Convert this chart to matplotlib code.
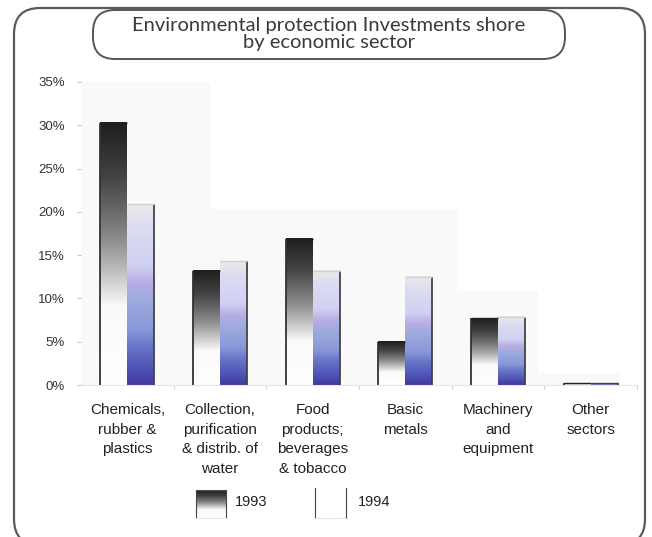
import numpy as np
import matplotlib
matplotlib.use('Agg')
import matplotlib.pyplot as plt
from matplotlib.colors import LinearSegmentedColormap
from matplotlib.patches import FancyBboxPatch, Rectangle
from matplotlib.transforms import IdentityTransform

# data (percent of investments)
sectors = ['Chemicals,\nrubber &\nplastics',
           'Collection,\npurification\n& distrib. of\nwater',
           'Food\nproducts;\nbeverages\n& tobacco',
           'Basic\nmetals',
           'Machinery\nand\nequipment',
           'Other\nsectors']
share_1993 = [30.3, 13.2, 16.9, 5.0, 7.7, 0.2]
share_1994 = [20.9, 14.3, 13.2, 12.5, 7.9, 0.2]
years = ['1993', '1994']
y_ticks = [0, 5, 10, 15, 20, 25, 30, 35]
y_labels = ['0%', '5%', '10%', '15%', '20%', '25%', '30%', '35%']

plt.rcParams['font.family'] = ['Liberation Sans', 'DejaVu Sans']

W, H = 652, 537
fig = plt.figure(figsize=(W / 100, H / 100), dpi=100)
ax = fig.add_axes([81 / W, 152 / H, 556 / W, 303 / H])

# gradients: 1993 dark on top fading to white, 1994 grey/lavender to deep blue
cmap93 = LinearSegmentedColormap.from_list('g93', [
    (0.0, '#ffffff'), (0.3, '#fafafa'), (0.42, '#c4c4c4'), (0.55, '#8e8e8e'),
    (0.67, '#676767'), (0.8, '#424242'), (1.0, '#1e1e1e')])
cmap94 = LinearSegmentedColormap.from_list('g94', [
    (0.0, '#44379a'), (0.08, '#4c52b4'), (0.22, '#6a78ca'), (0.3, '#8897d8'),
    (0.48, '#9eacde'), (0.56, '#b6ace4'), (0.66, '#d0d0f2'), (0.88, '#dcdcf2'),
    (1.0, '#ebebeb')])
grad = np.linspace(0, 1, 256).reshape(-1, 1)

# faint stepped background wall
for x0, x1, top in [(-0.5, 0.9, 35), (0.9, 3.56, 20.3), (3.56, 4.43, 10.9), (4.43, 5.32, 1.4)]:
    ax.add_patch(Rectangle((x0, 0), x1 - x0, top, color='#f9f9f9', zorder=0, lw=0))

w = 0.29
for i, (a, b) in enumerate(zip(share_1993, share_1994)):
    ax.imshow(grad, extent=[i - w, i, 0, a], origin='lower', aspect='auto',
              cmap=cmap93, zorder=2, interpolation='bilinear')
    ax.imshow(grad, extent=[i, i + w, 0, b], origin='lower', aspect='auto',
              cmap=cmap94, zorder=2, interpolation='bilinear')
    ax.vlines(i - w, 0, a, color='#333333', lw=1.3, zorder=3)
    ax.vlines(i + w, 0, b, color='#444444', lw=1.3, zorder=3)
    ax.hlines(a, i - w, i, color='#222222', lw=1.0, zorder=3)
    ax.hlines(b, i, i + w, color='#d0d0d0' if b > 1 else '#444444', lw=1.0, zorder=3)

ax.set_xlim(-0.5, 5.5)
ax.set_ylim(0, 35)
ax.set_yticks(y_ticks, y_labels)
ax.set_xticks(range(len(sectors)), sectors, linespacing=1.5)
ax.set_xticks(np.arange(0.5, 6, 1), minor=True)
ax.tick_params(axis='y', length=3, color='#c8c8c8', pad=8.5, labelsize=9.5, labelcolor='#333333')
ax.tick_params(axis='x', which='major', length=0, pad=13, labelsize=11, labelcolor='#222222')
ax.tick_params(axis='x', which='minor', length=3, color='#c8c8c8')
for s in ['top', 'right', 'left']:
    ax.spines[s].set_visible(False)
ax.spines['bottom'].set_color('#e6e6e6')

# legend swatches
sw93 = fig.add_axes([196 / W, (H - 518) / H, 30 / W, 28 / H])
sw93.imshow(np.linspace(0.25, 1, 64).reshape(-1, 1), origin='lower', aspect='auto',
            cmap=cmap93, extent=[0, 1, 0, 1])
sw94 = fig.add_axes([315 / W, (H - 518) / H, 31 / W, 30 / H])
sw94.set_facecolor('white')
for sw in (sw93, sw94):
    sw.set_xticks([])
    sw.set_yticks([])
    sw.spines['top'].set_visible(False)
    sw.spines['bottom'].set_color('#dddddd')
    sw.spines['bottom'].set_linestyle(':')
    sw.spines['left'].set_color('#444444')
    sw.spines['right'].set_color('#444444')
sw93.spines['top'].set_visible(True)
sw93.spines['top'].set_color('#555555')
fig.text(235 / W, 1 - 502 / H, years[0], fontsize=10.5, va='center', color='#222222')
fig.text(358 / W, 1 - 502 / H, years[1], fontsize=10.5, va='center', color='#222222')

# outer frame and title box
fig.patches.append(FancyBboxPatch((14, -8), 631, 537, boxstyle='round,pad=0,rounding_size=26',
                                  transform=IdentityTransform(), fill=False,
                                  ec='#5a5a5a', lw=1.6, figure=fig))
fig.patches.append(FancyBboxPatch((93, H - 59), 472, 49, boxstyle='round,pad=0,rounding_size=22',
                                  transform=IdentityTransform(), fill=False,
                                  ec='#555555', lw=1.4, figure=fig))
fig.text(329 / W, 1 - 34 / H, 'Environmental protection Investments shore\nby economic sector',
         ha='center', va='center', fontsize=14.5, linespacing=1.0, color='#3a3a3a',
         family=['Lato', 'DejaVu Sans'], fontweight='normal')

fig.savefig('out.png', dpi=100)
